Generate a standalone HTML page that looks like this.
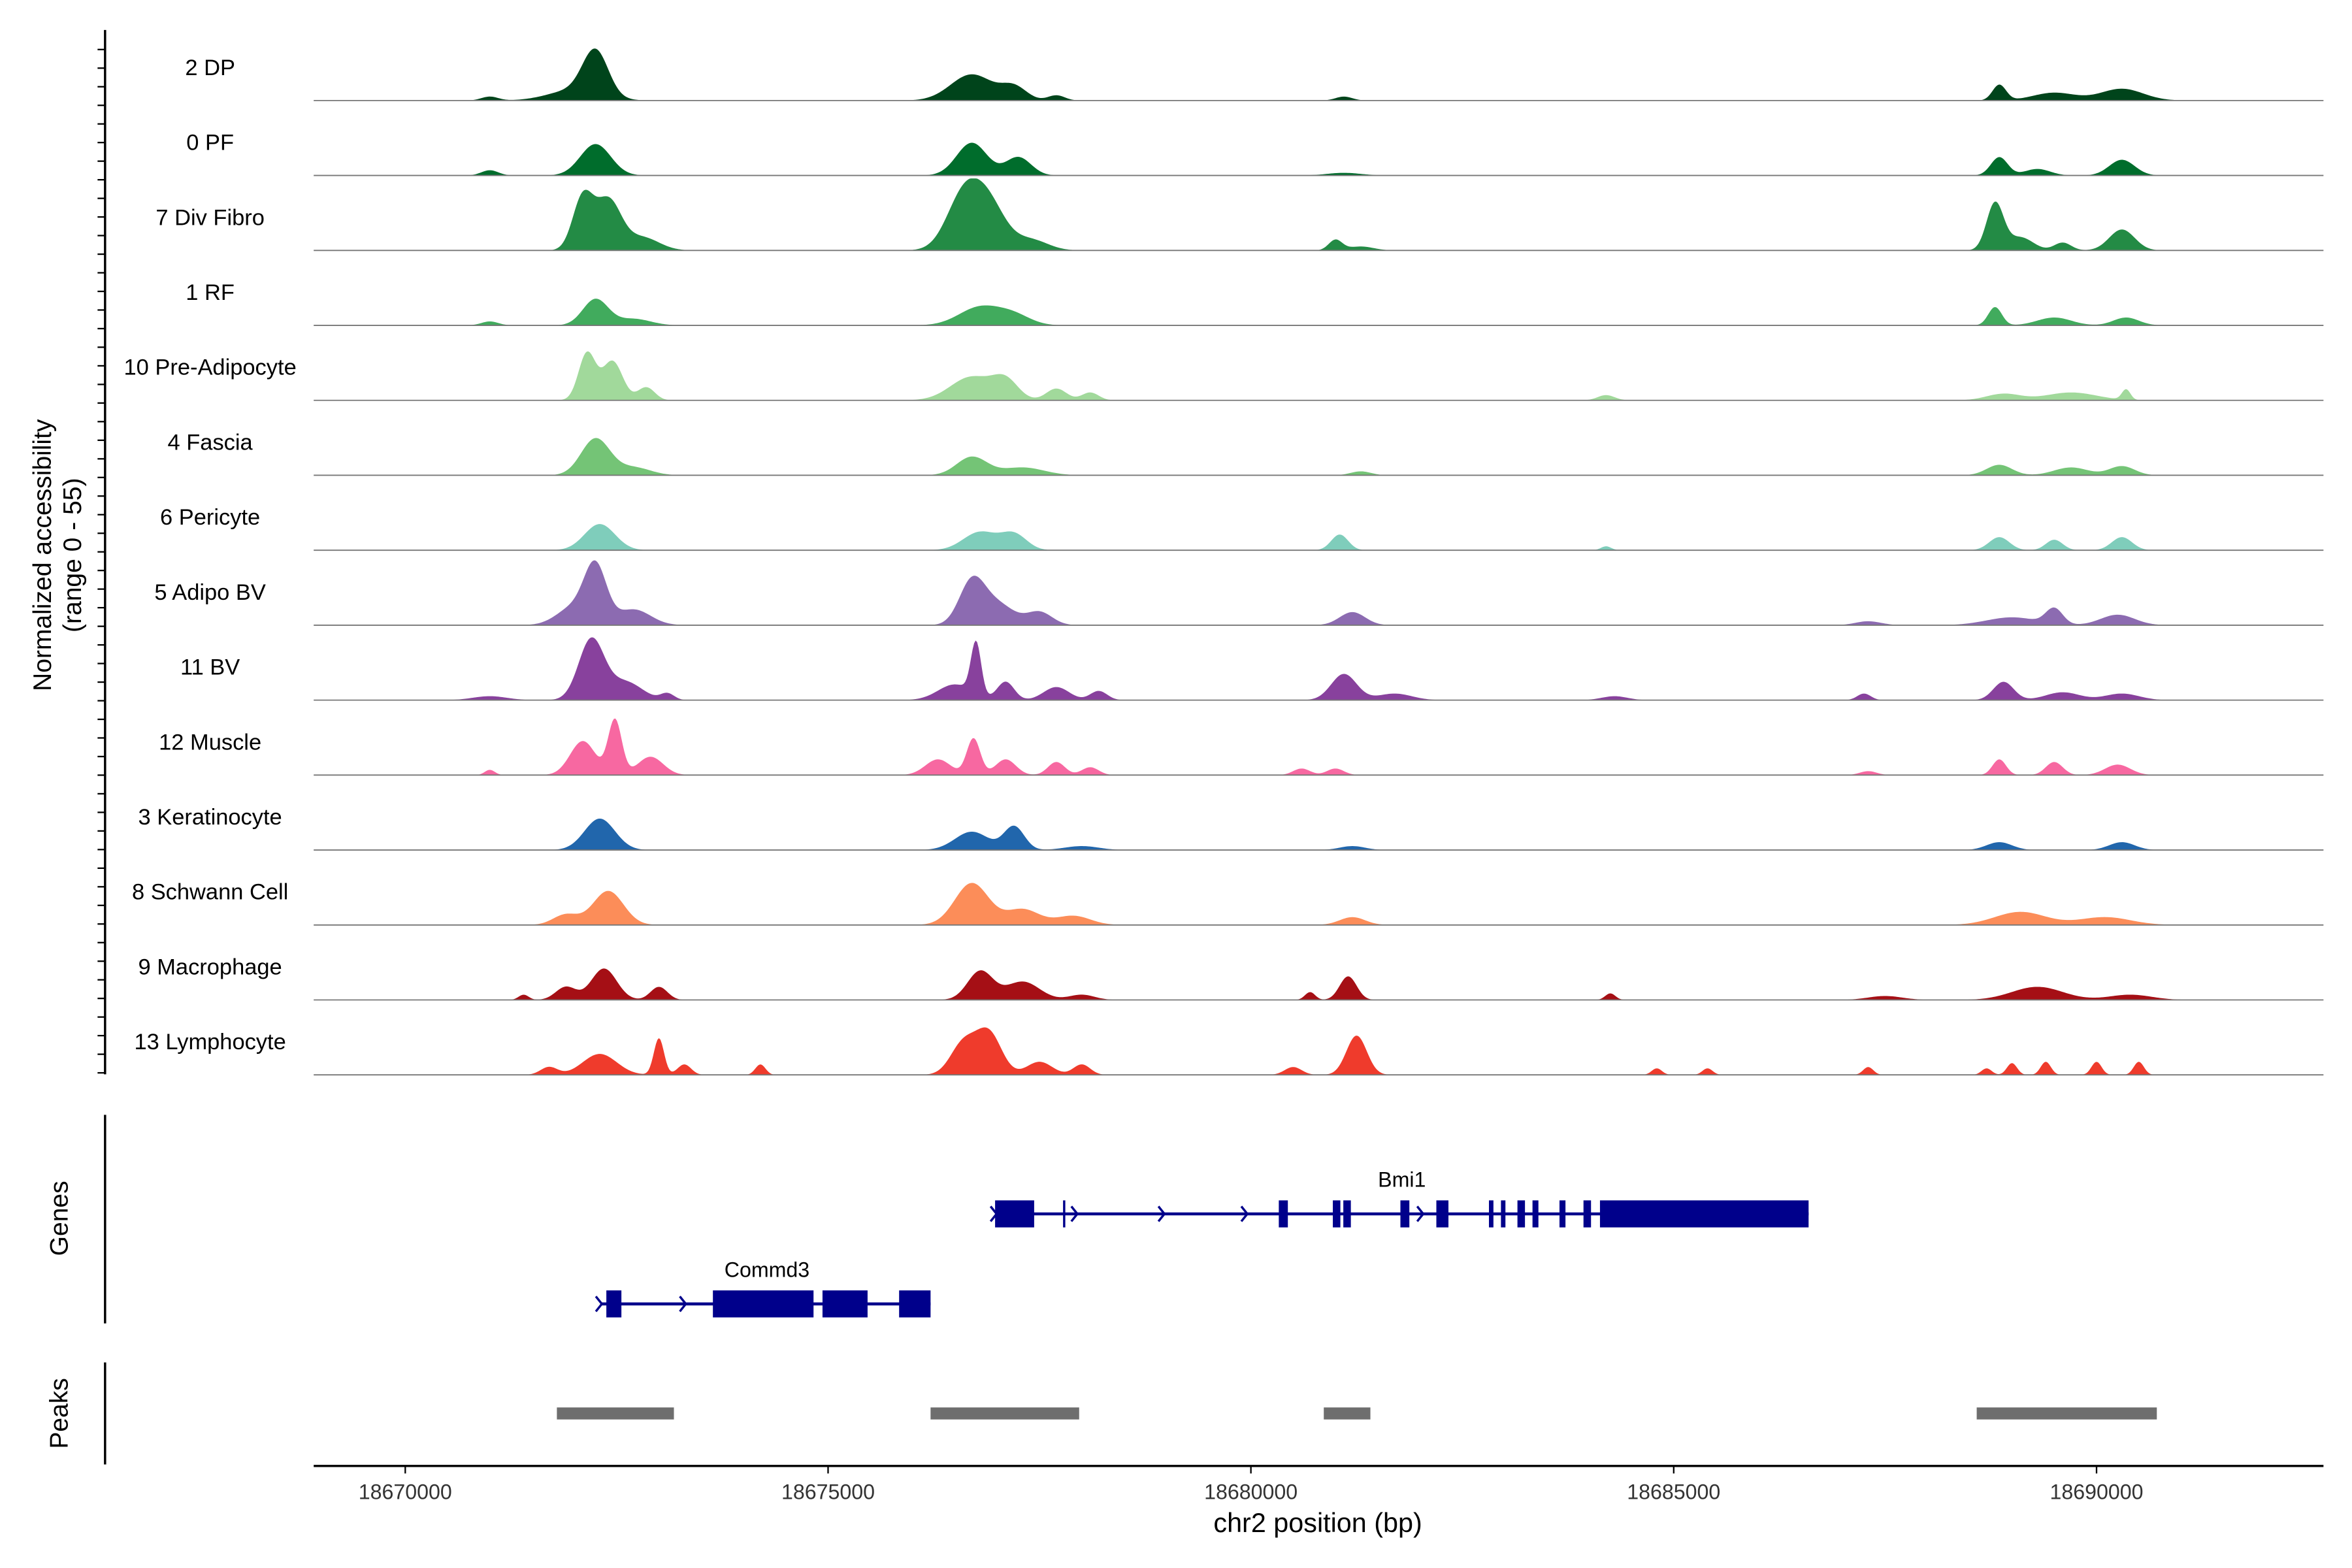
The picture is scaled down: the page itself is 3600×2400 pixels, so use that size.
<!DOCTYPE html>
<html><head><meta charset="utf-8">
<style>
html,body{margin:0;padding:0;background:#fff;}
svg{display:block;font-family:"Liberation Sans",Arial,sans-serif;}
</style></head>
<body>
<svg id="chart" width="3600" height="2400" viewBox="0 0 1567 1045" preserveAspectRatio="none" xmlns="http://www.w3.org/2000/svg">
<rect width="1567" height="1045" fill="#fff"/>
<g id="tracks"></g>
<g id="yaxis"></g>
<text transform="translate(34,370) rotate(-90)" text-anchor="middle" font-size="17">Normalized accessibility</text>
<text transform="translate(54,370) rotate(-90)" text-anchor="middle" font-size="17">(range 0 - 55)</text>
<line x1="70" y1="743" x2="70" y2="882" stroke="#000" stroke-width="1.5"/>
<text transform="translate(45,812) rotate(-90)" text-anchor="middle" font-size="17">Genes</text>
<line x1="70" y1="908" x2="70" y2="976" stroke="#000" stroke-width="1.5"/>
<text transform="translate(45,942) rotate(-90)" text-anchor="middle" font-size="17">Peaks</text>
<g id="genes"></g>
<g id="peaks"></g>
<g id="xaxis"></g>
<text x="878" y="1021" text-anchor="middle" font-size="18">chr2 position (bp)</text>
</svg>
<script>
const trackNames = ["2 DP","0 PF","7 Div Fibro","1 RF","10 Pre-Adipocyte","4 Fascia","6 Pericyte","5 Adipo BV","11 BV","12 Muscle","3 Keratinocyte","8 Schwann Cell","9 Macrophage","13 Lymphocyte"];
const trackColors = ["#00441b","#006d2c","#238b45","#41ab5d","#a1d99b","#74c476","#7fcdbb","#8c6bb1","#88419d","#f768a1","#2166ac","#fc8d59","#a50f15","#ef3b2c"];
// peaks per track: [position bp, height (0-55), width bp]
const peaks_2DP = [[18672250,34,150],[18672000,8,300],[18671000,3,100],[18676700,20,250],[18677200,10,150],[18677700,4,100],[18681100,3,100],[18688850,12,80],[18689500,6,250],[18690300,9,250]];
const peaks_0PF = [[18672250,24,180],[18671000,4,100],[18676700,25,180],[18677250,14,150],[18681100,2,200],[18688850,14,100],[18689300,5,150],[18690300,12,150]];
const peaks_7DivFibro = [[18672100,40,120],[18672400,38,150],[18672800,10,200],[18676600,40,200],[18676900,33,200],[18677400,8,200],[18681000,8,80],[18681300,3,150],[18688800,36,100],[18689100,10,150],[18690300,16,150],[18689600,6,100]];
const peaks_1RF = [[18672250,20,150],[18672700,5,200],[18671000,3,100],[18676800,14,250],[18677200,7,200],[18688800,14,80],[18689500,6,200],[18690350,6,150]];
const peaks_10PreAdipocyte = [[18672150,36,100],[18672450,30,120],[18672850,10,100],[18676700,18,250],[18677100,14,150],[18677700,9,120],[18678100,6,100],[18684200,4,100],[18688900,5,200],[18689700,6,300],[18690350,8,50]];
const peaks_4Fascia = [[18672250,28,170],[18672700,6,200],[18676700,14,180],[18677300,6,250],[18681300,3,120],[18688850,8,150],[18689700,6,200],[18690300,7,150]];
const peaks_6Pericyte = [[18672300,20,180],[18676800,14,200],[18677200,12,150],[18681050,12,100],[18684200,3,60],[18688850,10,120],[18689500,8,100],[18690300,10,120]];
const peaks_5AdipoBV = [[18672250,42,130],[18672000,14,200],[18672700,12,200],[18676700,32,150],[18677000,16,200],[18677500,10,150],[18681200,10,150],[18687300,3,150],[18689000,6,300],[18689500,12,100],[18690250,8,200]];
const peaks_11BV = [[18672200,46,150],[18672600,14,200],[18673100,5,80],[18671000,3,200],[18676500,12,200],[18676750,40,60],[18677100,14,100],[18677700,10,150],[18678200,7,100],[18681100,20,150],[18681700,5,200],[18684300,3,150],[18687250,5,80],[18688900,14,120],[18689600,6,200],[18690300,5,200]];
const peaks_12Muscle = [[18672100,26,150],[18672480,42,80],[18672900,14,150],[18671000,4,60],[18676300,12,150],[18676720,28,80],[18677100,12,120],[18677700,10,100],[18678100,6,100],[18680600,5,100],[18681000,5,100],[18687300,3,100],[18688850,12,80],[18689500,10,100],[18690250,8,150]];
const peaks_3Keratinocyte = [[18672300,24,180],[18676700,14,200],[18677200,18,120],[18678000,3,200],[18681200,3,150],[18688850,6,150],[18690300,6,150]];
const peaks_8Schwann = [[18672400,26,180],[18671900,8,150],[18676700,32,200],[18677300,12,200],[18677900,7,200],[18681200,6,150],[18689100,10,300],[18690100,6,300]];
const peaks_9Macrophage = [[18672350,24,150],[18671900,10,120],[18671400,4,60],[18673000,10,100],[18676800,22,150],[18677300,14,200],[18678000,4,150],[18680700,6,60],[18681150,18,100],[18684250,5,60],[18687500,3,200],[18689300,10,300],[18690400,4,250]];
const peaks_13Lymphocyte = [[18672300,16,200],[18671700,6,100],[18673000,28,60],[18673300,8,80],[18674200,8,60],[18676600,24,150],[18676900,32,150],[18677500,10,150],[18678000,8,100],[18680500,6,100],[18681250,30,120],[18684800,5,60],[18685400,5,60],[18687300,6,60],[18688700,5,60],[18689000,9,60],[18689400,10,60],[18690000,10,60],[18690500,10,60]];
const trackPeaks = [peaks_2DP,peaks_0PF,peaks_7DivFibro,peaks_1RF,peaks_10PreAdipocyte,peaks_4Fascia,peaks_6Pericyte,peaks_5AdipoBV,peaks_11BV,peaks_12Muscle,peaks_3Keratinocyte,peaks_8Schwann,peaks_9Macrophage,peaks_13Lymphocyte];
const xTicks = [18670000,18675000,18680000,18685000,18690000];
const bmi1Exons = [[18676975,18677437],[18680330,18680437],[18680969,18681058],[18681093,18681182],[18681768,18681874],[18682193,18682336],[18682815,18682868],[18682957,18683010],[18683152,18683241],[18683330,18683400],[18683649,18683720],[18683933,18684022],[18684128,18686595]];
const bmi1Span = [18676975,18686595];
const bmi1SmallMarks = [18677792];
const bmi1Arrows = [18677930,18678960,18679940,18682020];
const commd3Exons = [[18672378,18672556],[18673638,18674828],[18674934,18675467],[18675840,18676212]];
const commd3Span = [18672307,18676212];
const commd3Arrows = [18673300];
const peakRegions = [[18671793,18673177],[18676212,18677969],[18680862,18681413],[18688583,18690713]];

const NS="http://www.w3.org/2000/svg";
const X0=18670000, PX0=270, PXPERBP=0.05634;
function xs(bp){return PX0+(bp-X0)*PXPERBP;}
const YMAX=55, TRACKH=48;
function ys(v,base){return base - v/YMAX*TRACKH;}
function mk(tag,attrs,parent){const e=document.createElementNS(NS,tag);for(const k in attrs)e.setAttribute(k,attrs[k]);parent.appendChild(e);return e;}
const tracksG=document.getElementById('tracks');
const XL=209, XR=1548;
trackPeaks.forEach((pk,i)=>{
  const base=67+i*49.95;
  const g=mk('g',{},tracksG);
  
  
  let d='M'+XL+','+base;
  for(let px=XL;px<=XR;px+=1){
    const bp=X0+(px-PX0)/PXPERBP;
    let v=0;
    pk.forEach(p=>{const z=(bp-p[0])/p[2];v+=p[1]*Math.exp(-0.5*z*z);});
    if(v>YMAX)v=YMAX;
    d+=' L'+px+','+ys(v,base).toFixed(2);
  }
  d+=' L'+XR+','+base+' Z';
  const a=mk('path',{d:d,fill:trackColors[i]},g);
  
  
  const l=mk('line',{x1:XL,x2:XR,y1:base,y2:base,stroke:'#777','stroke-width':0.8},g);
  
  
  const t=mk('text',{x:140,y:base-17,'text-anchor':'middle','font-size':15},g);
  t.textContent=trackNames[i];
  
  
});
const ya=document.getElementById('yaxis');
mk('line',{x1:70,y1:20,x2:70,y2:716,stroke:'#000','stroke-width':1.5},ya);
for(let y=33;y<=716;y+=12.4){mk('line',{x1:65,x2:70,y1:y,y2:y,stroke:'#000','stroke-width':1},ya);}
// genes
const gg=document.getElementById('genes');
function drawGene(name,span,exons,arrows,small,y,labelX,labelY){
  const g=mk('g',{},gg);
  
  
  mk('line',{x1:xs(span[0]),x2:xs(span[1]),y1:y,y2:y,stroke:'#00008b','stroke-width':2},g);
  exons.forEach(e=>mk('rect',{x:xs(e[0]),y:y-9,width:Math.max(1,xs(e[1])-xs(e[0])),height:18,fill:'#00008b'},g));
  small.forEach(s=>mk('line',{x1:xs(s),x2:xs(s),y1:y-9,y2:y+9,stroke:'#00008b','stroke-width':1.5},g));
  arrows.concat([span[0]]).forEach(a=>{const x=xs(a);mk('polyline',{points:(x-3)+','+(y-5)+' '+(x+1)+','+y+' '+(x-3)+','+(y+5),fill:'none',stroke:'#00008b','stroke-width':1.5},g);});
  const t=mk('text',{x:labelX,y:labelY,'text-anchor':'middle','font-size':14},g);
  t.textContent=name;
}
drawGene('Bmi1',bmi1Span,bmi1Exons,bmi1Arrows,bmi1SmallMarks,809,934,791);
drawGene('Commd3',commd3Span,commd3Exons,commd3Arrows,[],869,511,851);
// peaks
const pg=document.getElementById('peaks');
peakRegions.forEach(r=>{
  const e=mk('rect',{x:xs(r[0]),y:938,width:xs(r[1])-xs(r[0]),height:8,fill:'#6e6e6e'},pg);
  
  
});
// x axis
const xa=document.getElementById('xaxis');
mk('line',{x1:XL,x2:XR,y1:977,y2:977,stroke:'#000','stroke-width':1.5},xa);
xTicks.forEach(t=>{
  mk('line',{x1:xs(t),x2:xs(t),y1:977,y2:982,stroke:'#000','stroke-width':1},xa);
  const tx=mk('text',{x:xs(t),y:999,'text-anchor':'middle','font-size':14,fill:'#333'},xa);
  tx.textContent=t;
  
  
});
</script>
</body></html>
